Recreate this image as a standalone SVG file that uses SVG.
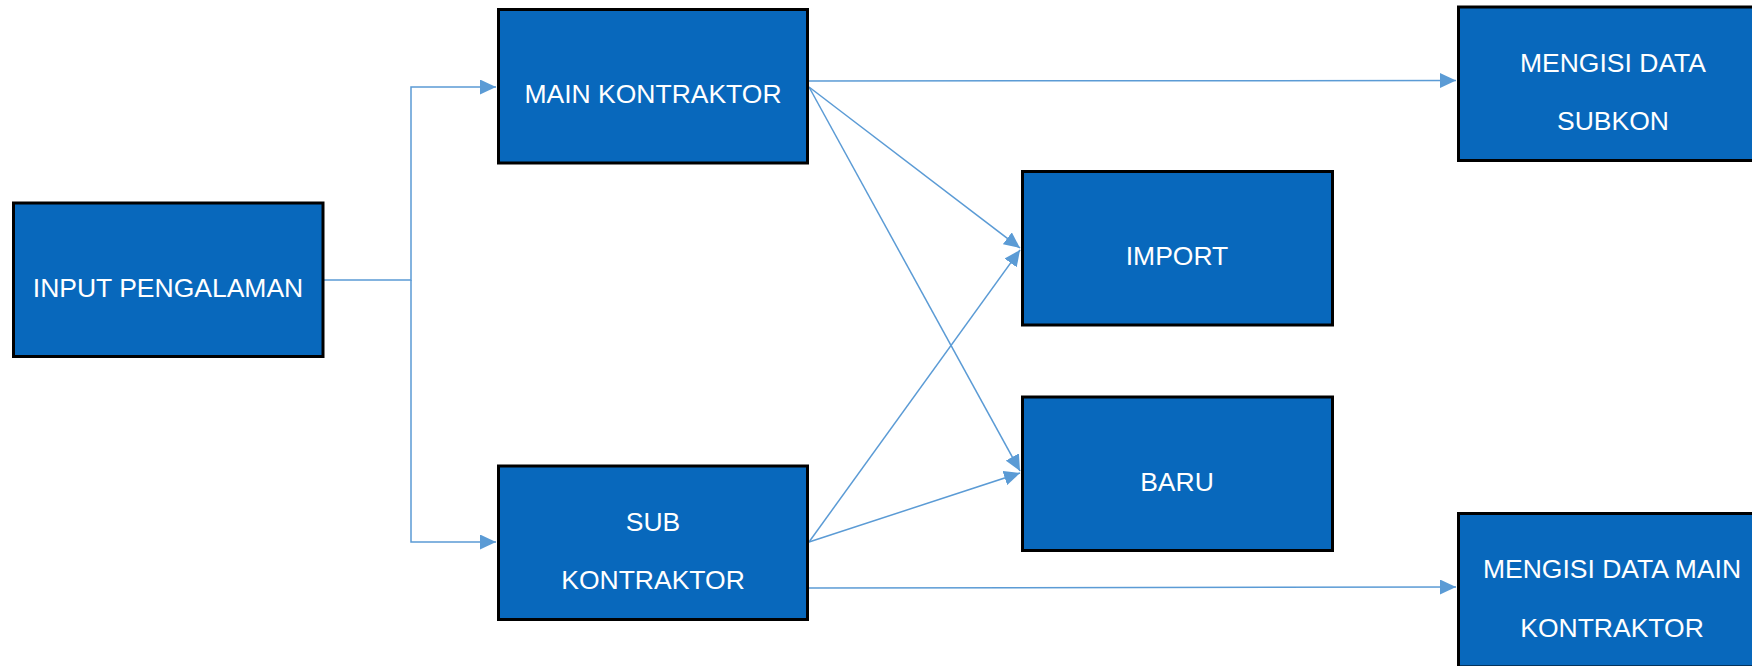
<svg xmlns="http://www.w3.org/2000/svg" width="1752" height="666" viewBox="0 0 1752 666">
<style>
.box{fill:#0868BC;stroke:#000;stroke-width:3}
.t{font-family:"Liberation Sans",Arial,sans-serif;font-size:26.5px;fill:#fff;text-anchor:middle}
.c{fill:none;stroke:#5B9BD5;stroke-width:1.5}
</style>
<defs>
<marker id="ah" markerUnits="userSpaceOnUse" markerWidth="17" markerHeight="15" refX="16" refY="7.5" orient="auto">
<path d="M0,0 L16,7.5 L0,15 z" fill="#5B9BD5"/>
</marker>
</defs>
<rect width="1752" height="666" fill="#fff"/>
<g id="connectors">
<path class="c" d="M324,280 H411 V87 H496" marker-end="url(#ah)"/>
<path class="c" d="M411,280 V542 H496" marker-end="url(#ah)"/>
<path class="c" d="M809,81 L1456,80.5" marker-end="url(#ah)"/>
<path class="c" d="M809,87 L1020,248" marker-end="url(#ah)"/>
<path class="c" d="M809,87 L1020,471" marker-end="url(#ah)"/>
<path class="c" d="M809,542 L1020,250" marker-end="url(#ah)"/>
<path class="c" d="M809,542 L1020,473" marker-end="url(#ah)"/>
<path class="c" d="M809,588 L1456,587" marker-end="url(#ah)"/>
</g>
<g id="input">
<rect class="box" x="13.5" y="203" width="309.5" height="153.5"/>
<text class="t" x="168" y="297">INPUT PENGALAMAN</text>
</g>
<g id="main">
<rect class="box" x="498.5" y="9.5" width="309" height="153.5"/>
<text class="t" x="653" y="103">MAIN KONTRAKTOR</text>
</g>
<g id="sub">
<rect class="box" x="498.5" y="466" width="309" height="153.5"/>
<text class="t" x="653" y="531">SUB</text>
<text class="t" x="653" y="589">KONTRAKTOR</text>
</g>
<g id="import">
<rect class="box" x="1022.5" y="171.5" width="310" height="153.5"/>
<text class="t" x="1177" y="265">IMPORT</text>
</g>
<g id="baru">
<rect class="box" x="1022.5" y="397" width="310" height="153.5"/>
<text class="t" x="1177" y="491">BARU</text>
</g>
<g id="mengisi-subkon">
<rect class="box" x="1458.5" y="7" width="310" height="153.5"/>
<text class="t" x="1613" y="72">MENGISI DATA</text>
<text class="t" x="1613" y="130">SUBKON</text>
</g>
<g id="mengisi-main">
<rect class="box" x="1458.5" y="513.5" width="310" height="153.5"/>
<text class="t" x="1612" y="578">MENGISI DATA MAIN</text>
<text class="t" x="1612" y="637">KONTRAKTOR</text>
</g>
</svg>
